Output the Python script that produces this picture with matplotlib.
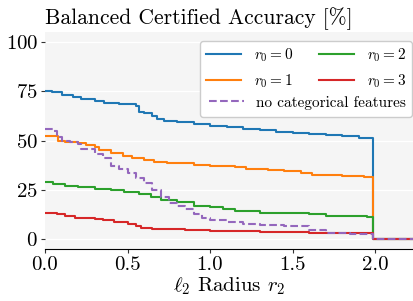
import numpy as np
import matplotlib
matplotlib.use("Agg")
import matplotlib.pyplot as plt
from matplotlib.lines import Line2D

plt.rcParams['font.family'] = 'serif'
plt.rcParams['font.serif'] = ['cmr10']
plt.rcParams['mathtext.fontset'] = 'cm'
plt.rcParams['axes.formatter.use_mathtext'] = True

# step curves: certified accuracy vs l2 radius
r_0 = [0, 0.04, 0.1, 0.17, 0.22, 0.3, 0.36, 0.45, 0.55, 0.57, 0.6, 0.65, 0.68, 0.72, 0.8,
       0.9, 1.0, 1.1, 1.2, 1.3, 1.4, 1.5, 1.6, 1.7, 1.8, 1.9, 1.99, 2.24]
acc_0 = [75, 74.5, 73, 72, 71, 70, 69, 68.5, 67.5, 64.5, 64, 62.5, 61, 60, 59.5,
         58.5, 57.5, 57, 56, 55.5, 54.5, 54, 53.5, 53, 52.5, 51.5, 0, 0]

r_1 = [0, 0.08, 0.12, 0.2, 0.25, 0.3, 0.33, 0.4, 0.47, 0.53, 0.6, 0.66, 0.74, 0.9, 1.0,
       1.15, 1.22, 1.35, 1.45, 1.55, 1.62, 1.8, 1.93, 1.99, 2.24]
acc_1 = [52.5, 50, 49, 48.5, 47.5, 46.5, 45, 43.5, 42, 41, 40, 39, 38.5, 37.5, 37,
         36.5, 35.5, 35, 34.5, 33.5, 32.5, 32, 31.5, 0, 0]

r_2 = [0, 0.05, 0.12, 0.2, 0.3, 0.4, 0.48, 0.57, 0.64, 0.7, 0.8, 0.9, 1.0, 1.08, 1.15,
       1.3, 1.4, 1.6, 1.7, 1.95, 1.99, 2.24]
acc_2 = [29, 28, 27, 26.5, 25.5, 25, 24, 23, 21.5, 20, 19, 17, 16.5, 15.5, 14.5,
         13.5, 13, 12.5, 11.5, 11, 0, 0]

r_3 = [0, 0.07, 0.12, 0.18, 0.3, 0.35, 0.42, 0.5, 0.55, 0.58, 0.65, 0.85, 1.0, 1.3, 1.6,
       1.99, 2.24]
acc_3 = [13.5, 12.5, 11.5, 10.5, 10, 9.5, 8.5, 7.5, 6.5, 5.5, 5, 4.5, 4.2, 3.5, 3.2,
         0, 0]

r_nocat = [0, 0.05, 0.07, 0.1, 0.15, 0.2, 0.22, 0.3, 0.35, 0.4, 0.45, 0.5, 0.55, 0.6, 0.65,
           0.7, 0.75, 0.8, 0.85, 0.9, 0.95, 1.0, 1.1, 1.2, 1.3, 1.45, 1.6, 1.7, 1.85, 1.99, 2.24]
acc_nocat = [56, 55, 52, 50, 49, 48, 45.5, 43, 41, 37, 35.5, 33.5, 31, 28.5, 25,
             21.5, 18.5, 17, 15.5, 12.5, 10.5, 9.5, 8.5, 7.5, 7, 6.5, 4.5, 3, 2.5, 0, 0]

labels = ['$r_0 = 0$', '$r_0 = 1$', '$r_0 = 2$', '$r_0 = 3$']
colors = ['#1f77b4', '#ff7f0e', '#2ca02c', '#d62728']
xs = [r_0, r_1, r_2, r_3]
ys = [acc_0, acc_1, acc_2, acc_3]

fig = plt.figure(figsize=(4.14, 3.01), dpi=100)
ax = fig.add_axes([45/414, 52/301, 369/414, 217/301])
ax.set_facecolor('#f5f5f5')

handles = []
for x, y, lab, c in zip(xs, ys, labels, colors):
    h, = ax.plot(x, y, drawstyle='steps-post', color=c, lw=1.5, label=lab)
    handles.append(h)
h_nc, = ax.plot(r_nocat, acc_nocat, drawstyle='steps-post', color='#9467bd', lw=1.5,
                ls='--', label='no categorical features')

ax.set_xlim(0, 2.236)
ax.set_ylim(-5, 105)
ax.set_xticks([0, 0.5, 1.0, 1.5, 2.0])
ax.set_xticklabels(['0.0', '0.5', '1.0', '1.5', '2.0'])
ax.set_yticks([0, 25, 50, 75, 100])
ax.yaxis.grid(True, color='white', lw=1.0)
ax.set_axisbelow(True)
for s in ['top', 'right', 'left']:
    ax.spines[s].set_visible(False)
ax.spines['bottom'].set_color('black')
ax.tick_params(labelsize=15, length=3, color='#333333', pad=2)

ax.set_title('Balanced Certified Accuracy [%]', loc='left', fontsize=15.5, pad=6)
ax.set_xlabel(r'$\ell_2$ Radius $r_2$', fontsize=15, labelpad=1)

blank = Line2D([], [], color='none')
leg = ax.legend([handles[0], handles[1], blank, handles[2], handles[3], blank],
                [labels[0], labels[1], ' ', labels[2], labels[3], ' '],
                ncol=2, loc='upper right', bbox_to_anchor=(0.995, 0.96), fontsize=11,
                frameon=True, fancybox=True, framealpha=1.0, edgecolor='#cccccc',
                columnspacing=1.7, handlelength=2.3, borderaxespad=0)
ax.add_artist(leg)
ax.legend([h_nc], ['no categorical features'], loc='upper right', fontsize=11,
          frameon=False, bbox_to_anchor=(0.995, 0.735), handlelength=2.3,
          borderaxespad=0)

fig.savefig('out.png', dpi=100)
